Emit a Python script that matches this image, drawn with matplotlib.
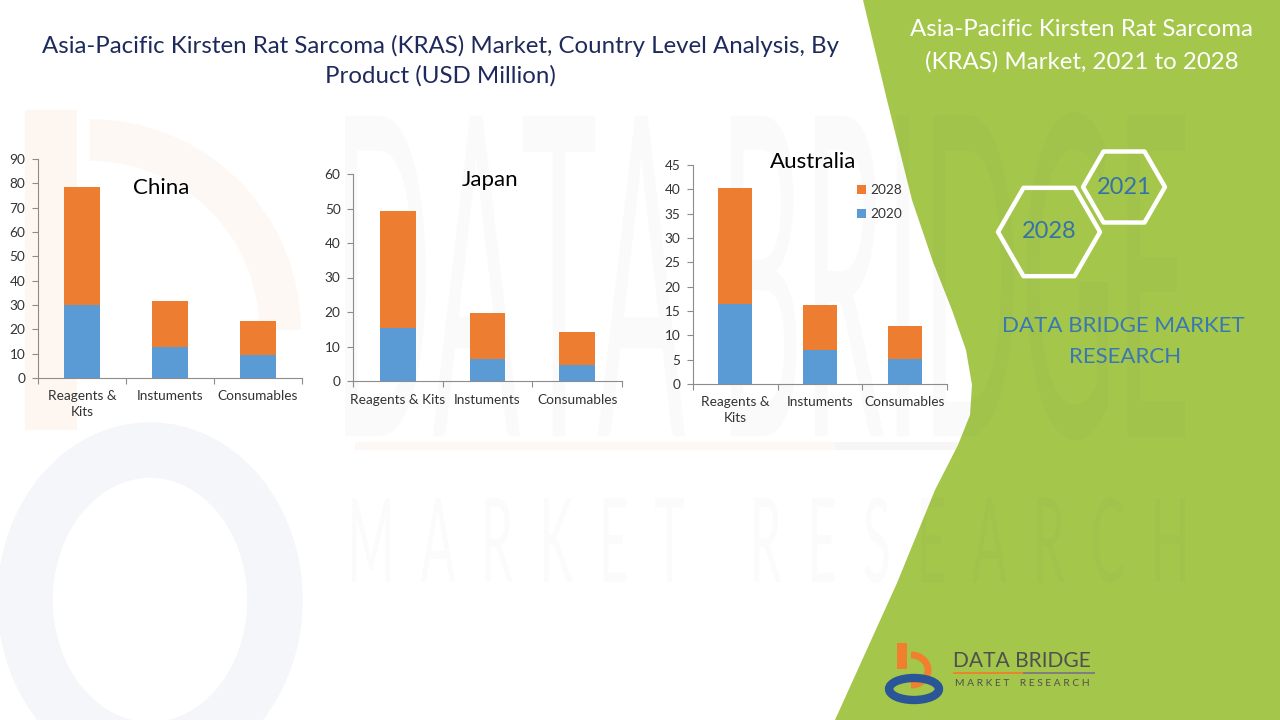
import numpy as np
import matplotlib
matplotlib.use('Agg')
import matplotlib.pyplot as plt
from matplotlib.patches import Polygon, RegularPolygon, Rectangle, Ellipse, Arc, PathPatch
from matplotlib.textpath import TextPath
from matplotlib.font_manager import FontProperties
from matplotlib.transforms import Affine2D

# ---------------- data ----------------
categories_two_line = ['Reagents &\nKits', 'Instuments', 'Consumables']
categories_one_line = ['Reagents & Kits', 'Instuments', 'Consumables']
series_names = ['2020', '2028']

china_2020 = [30.1, 12.9, 9.6]
china_2028 = [48.4, 18.9, 13.9]
japan_2020 = [15.5, 6.4, 4.7]
japan_2028 = [33.8, 13.3, 9.5]
australia_2020 = [16.5, 6.9, 5.2]
australia_2028 = [23.8, 9.4, 6.8]

china_ticks = list(range(0, 91, 10))
japan_ticks = list(range(0, 61, 10))
australia_ticks = list(range(0, 46, 5))

# ---------------- style ----------------
W, H = 1280, 720
FONT = ['Lato', 'DejaVu Sans']
plt.rcParams['font.family'] = FONT
BLUE = '#5B9BD5'
ORANGE = '#ED7D31'
GREEN = '#A4C64A'
AXIS = '#8C8C8C'
TXT = '#333333'

fig = plt.figure(figsize=(W / 100, H / 100), dpi=100)
fig.patch.set_facecolor('white')

bg = fig.add_axes([0, 0, 1, 1], zorder=0)
bg.set_xlim(0, W)
bg.set_ylim(H, 0)
bg.axis('off')

# very faint watermark logo on the left
bg.add_patch(Rectangle((25, 110), 52, 320, facecolor='#FEF6F1', edgecolor='none', zorder=1))
bg.add_patch(Arc((90, 330), 380, 380, theta1=270, theta2=360, lw=30, color='#FEF8F4', zorder=1))
bg.add_patch(Ellipse((150, 600), 250, 300, facecolor='none', edgecolor='#F5F6F9', lw=40, zorder=1))
bg.add_patch(Rectangle((355, 442), 480, 8, facecolor='#FEF8F4', edgecolor='none', zorder=1))
bg.add_patch(Rectangle((835, 442), 350, 8, facecolor='#F6F6F6', edgecolor='none', zorder=1))

# green panel on the right
edge = [(863, 0), (887, 100), (912, 200), (933, 262), (952, 310), (966, 350),
        (972, 385), (970, 415), (958, 445), (935, 490), (897, 583), (835, 720)]
bg.add_patch(Polygon(edge + [(W, H), (W, 0)], closed=True, facecolor=GREEN,
                     edgecolor='none', zorder=2))


def stretched_text(s, x0, x1, y_top, y_bot, color, alpha, z):
    tp = TextPath((0, 0), s, size=100, prop=FontProperties(family='Lato'))
    bb = tp.get_extents()
    sx = (x1 - x0) / bb.width
    sy = (y_bot - y_top) / bb.height
    tr = Affine2D().translate(-bb.x0, -bb.y0).scale(sx, -sy).translate(x0, y_bot)
    p = tr.transform_path(tp)
    bg.add_patch(PathPatch(p, facecolor=color, edgecolor='none', alpha=alpha, zorder=z))


stretched_text('DATA BRIDGE', 345, 1185, 112, 440, '#808080', 0.035, 3)
stretched_text('M  A  R  K  E  T     R  E  S  E  A  R  C  H', 352, 1185, 497, 583,
               '#808080', 0.03, 3)

# hexagons
for (cx, cy, r, lab) in [(1124, 187, 41, '2021'), (1049, 232, 51, '2028')]:
    bg.add_patch(RegularPolygon((cx, cy), numVertices=6, radius=r, orientation=np.pi / 6,
                                facecolor='none', edgecolor='white', lw=3.2,
                                joinstyle='round', zorder=4))
    bg.text(cx, cy, lab, ha='center', va='center', color='#3572A8', fontsize=17, zorder=5)

# bottom-right logo
bg.add_patch(Rectangle((897, 643), 10, 26, facecolor='#F07F2E', edgecolor='none', zorder=5))
bg.add_patch(Arc((911, 670), 34, 30, theta1=270, theta2=90, lw=5, color='#F07F2E', zorder=5))
bg.add_patch(Ellipse((914, 689), 50, 22, facecolor='none', edgecolor='#2A5597', lw=6, zorder=5))
bg.add_patch(Rectangle((953, 672), 70, 1.5, facecolor='#E8862F', edgecolor='none', zorder=5))
bg.add_patch(Rectangle((1023, 672), 72, 1.5, facecolor='#7F7F7F', edgecolor='none', zorder=5))

renderer = fig.canvas.get_renderer()


def fit(t, width_px):
    bb = t.get_window_extent(renderer)
    t.set_fontsize(t.get_fontsize() * width_px / bb.width)
    return t


fit(bg.text(1022, 661, 'DATA BRIDGE', ha='center', va='center', color='#505050',
            fontsize=14, zorder=6), 138)
fit(bg.text(1022, 684, 'M A R K E T    R E S E A R C H', ha='center', va='center',
            color='#505050', fontsize=5, zorder=6), 136)

# titles
fit(bg.text(440, 46, 'Asia-Pacific Kirsten Rat Sarcoma (KRAS) Market, Country Level Analysis, By',
            ha='center', va='center', color='#1F2A5C', fontsize=16, zorder=6), 800)
bg.text(440, 76, 'Product (USD Million)', ha='center', va='center', color='#1F2A5C',
        fontsize=bg.texts[-1].get_fontsize(), zorder=6)

t1 = fit(bg.text(1081, 30, 'Asia-Pacific Kirsten Rat Sarcoma', ha='center', va='center',
                 color='white', fontsize=16, zorder=6), 343)
bg.text(1082, 62, '(KRAS) Market, 2021 to 2028', ha='center', va='center', color='white',
        fontsize=t1.get_fontsize(), zorder=6)

t2 = fit(bg.text(1123, 326, 'DATA BRIDGE MARKET', ha='center', va='center', color='#3A78B2',
                 fontsize=17, zorder=6), 242)
bg.text(1125, 357, 'RESEARCH', ha='center', va='center', color='#3A78B2',
        fontsize=t2.get_fontsize(), zorder=6)


# ---------------- charts ----------------
def rect(l, r, b, t):
    return [l / W, (H - b) / H, (r - l) / W, (b - t) / H]


def chart(box, v2020, v2028, ticks, cats, title, title_xy):
    ax = fig.add_axes(rect(*box), zorder=10)
    ax.patch.set_alpha(0)
    x = np.arange(len(cats))
    b1 = ax.bar(x, v2020, width=0.4, color=BLUE, label=series_names[0], zorder=3)
    b2 = ax.bar(x, v2028, width=0.4, bottom=v2020, color=ORANGE, label=series_names[1], zorder=3)
    ax.set_xlim(-0.5, len(cats) - 0.5)
    ax.set_ylim(ticks[0], ticks[-1])
    ax.set_yticks(ticks)
    ax.set_xticks(np.arange(len(cats) + 1) - 0.5)
    ax.set_xticklabels([])
    ax.set_xticks(x, minor=True)
    ax.set_xticklabels(cats, minor=True, fontsize=9.8, color=TXT, linespacing=1.3)
    ax.tick_params(axis='x', which='minor', length=0, pad=9)
    ax.tick_params(axis='x', which='major', length=4, color=AXIS, width=0.8)
    ax.tick_params(axis='y', length=4, color=AXIS, width=0.8, labelsize=9.8,
                   labelcolor=TXT, pad=5)
    for s in ['top', 'right']:
        ax.spines[s].set_visible(False)
    for s in ['left', 'bottom']:
        ax.spines[s].set_color(AXIS)
        ax.spines[s].set_linewidth(0.8)
    fig.text(title_xy[0] / W, 1 - title_xy[1] / H, title, ha='center', va='center',
             fontsize=16, color='black')
    return ax, b1, b2


chart((38, 302, 378, 159), china_2020, china_2028, china_ticks, categories_two_line,
      'China', (161, 188))
chart((353, 622, 381, 174), japan_2020, japan_2028, japan_ticks, categories_one_line,
      'Japan', (490, 180))
ax3, b1, b2 = chart((693, 947, 384, 165), australia_2020, australia_2028, australia_ticks,
                    categories_two_line, 'Australia', (813, 162))

ax3.legend([b2, b1], [series_names[1], series_names[0]], loc='upper left',
           bbox_to_anchor=(857 / W, 1 - 184 / H), bbox_transform=fig.transFigure,
           frameon=False, fontsize=9.8, handlelength=0.65, handleheight=0.65,
           handletextpad=0.35, labelspacing=0.9, borderaxespad=0, borderpad=0,
           labelcolor=TXT)

fig.savefig('out.png', dpi=100, facecolor='white')
